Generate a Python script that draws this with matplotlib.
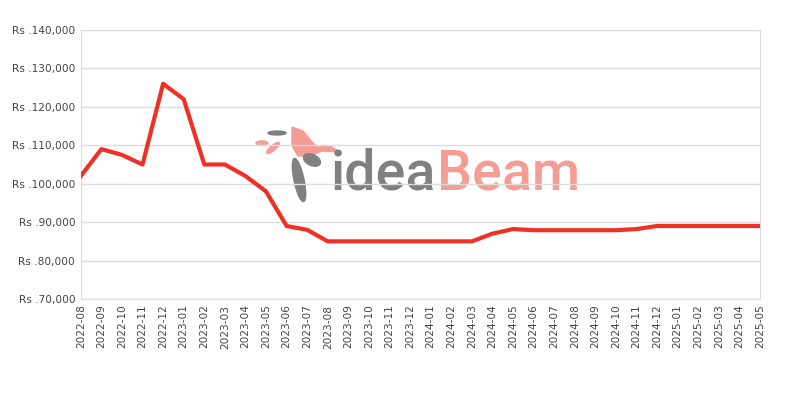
import matplotlib
matplotlib.use("Agg")
from matplotlib import pyplot as plt
from matplotlib.ticker import FuncFormatter
from matplotlib.patches import Ellipse, Polygon

# Monthly prices
months = ["2022-08", "2022-09", "2022-10", "2022-11", "2022-12", "2023-01",
          "2023-02", "2023-03", "2023-04", "2023-05", "2023-06", "2023-07",
          "2023-08", "2023-09", "2023-10", "2023-11", "2023-12", "2024-01",
          "2024-02", "2024-03", "2024-04", "2024-05", "2024-06", "2024-07",
          "2024-08", "2024-09", "2024-10", "2024-11", "2024-12", "2025-01",
          "2025-02", "2025-03", "2025-04", "2025-05"]
prices = [102000, 109000, 107500, 105000, 126000, 122000,
          105000, 105000, 102000, 98000, 89000, 88000,
          85000, 85000, 85000, 85000, 85000, 85000,
          85000, 85000, 87000, 88200, 87900, 87900,
          87900, 87900, 87900, 88200, 89000, 89000,
          89000, 89000, 89000, 89000]
y_ticks = [70000, 80000, 90000, 100000, 110000, 120000, 130000, 140000]

gray = "#808080"
salmon = "#f59d94"

fig = plt.figure(figsize=(8, 4), dpi=100)

# watermark layer in pixel coords, under the chart
wm = fig.add_axes([0, 0, 1, 1], zorder=0)
wm.set_xlim(0, 800)
wm.set_ylim(400, 0)
wm.axis("off")
wm.text(331, 189, "idea", color=gray, fontsize=40, fontweight="medium",
        family="Roboto", ha="left", va="baseline")
wm.text(437, 189, "Beam", color=salmon, fontsize=40, fontweight="medium",
        family="Roboto", ha="left", va="baseline")
# rough bird icon
wm.add_patch(Polygon([(292, 127), (303, 131), (312, 142), (318, 147), (330, 146),
                      (340, 152), (322, 151), (310, 156), (298, 156), (292, 146)],
                     closed=True, color=salmon))
wm.add_patch(Ellipse((299, 180), 10, 44, angle=-12, color=gray))
wm.add_patch(Ellipse((312, 160), 18, 11, angle=25, color=gray))
wm.add_patch(Ellipse((262, 143), 12, 4, angle=0, color=salmon))
wm.add_patch(Ellipse((273, 148), 16, 5, angle=-40, color=salmon))
wm.add_patch(Ellipse((277, 133), 18, 4, angle=0, color=gray))

ax = fig.add_axes([0.101, 0.2525, 0.849, 0.6725], zorder=1)
x = list(range(len(months)))
ax.plot(x, prices, color="#ee3124", lw=3, solid_joinstyle="round", zorder=3)

ax.set_xlim(0, len(months) - 1)
ax.set_ylim(70000, 140000)
ax.set_yticks(y_ticks)
ax.yaxis.set_major_formatter(FuncFormatter(lambda v, p: "Rs .{:,}".format(int(v))))
ax.set_xticks(x)
ax.set_xticklabels(months, rotation=90)
ax.tick_params(axis="both", length=0, labelsize=7.6, labelcolor="#444444", pad=4)
ax.grid(axis="y", color="#dddddd", lw=1)
for s in ax.spines.values():
    s.set_color("#dddddd")
ax.patch.set_alpha(0)

fig.savefig("out.png", dpi=100)
